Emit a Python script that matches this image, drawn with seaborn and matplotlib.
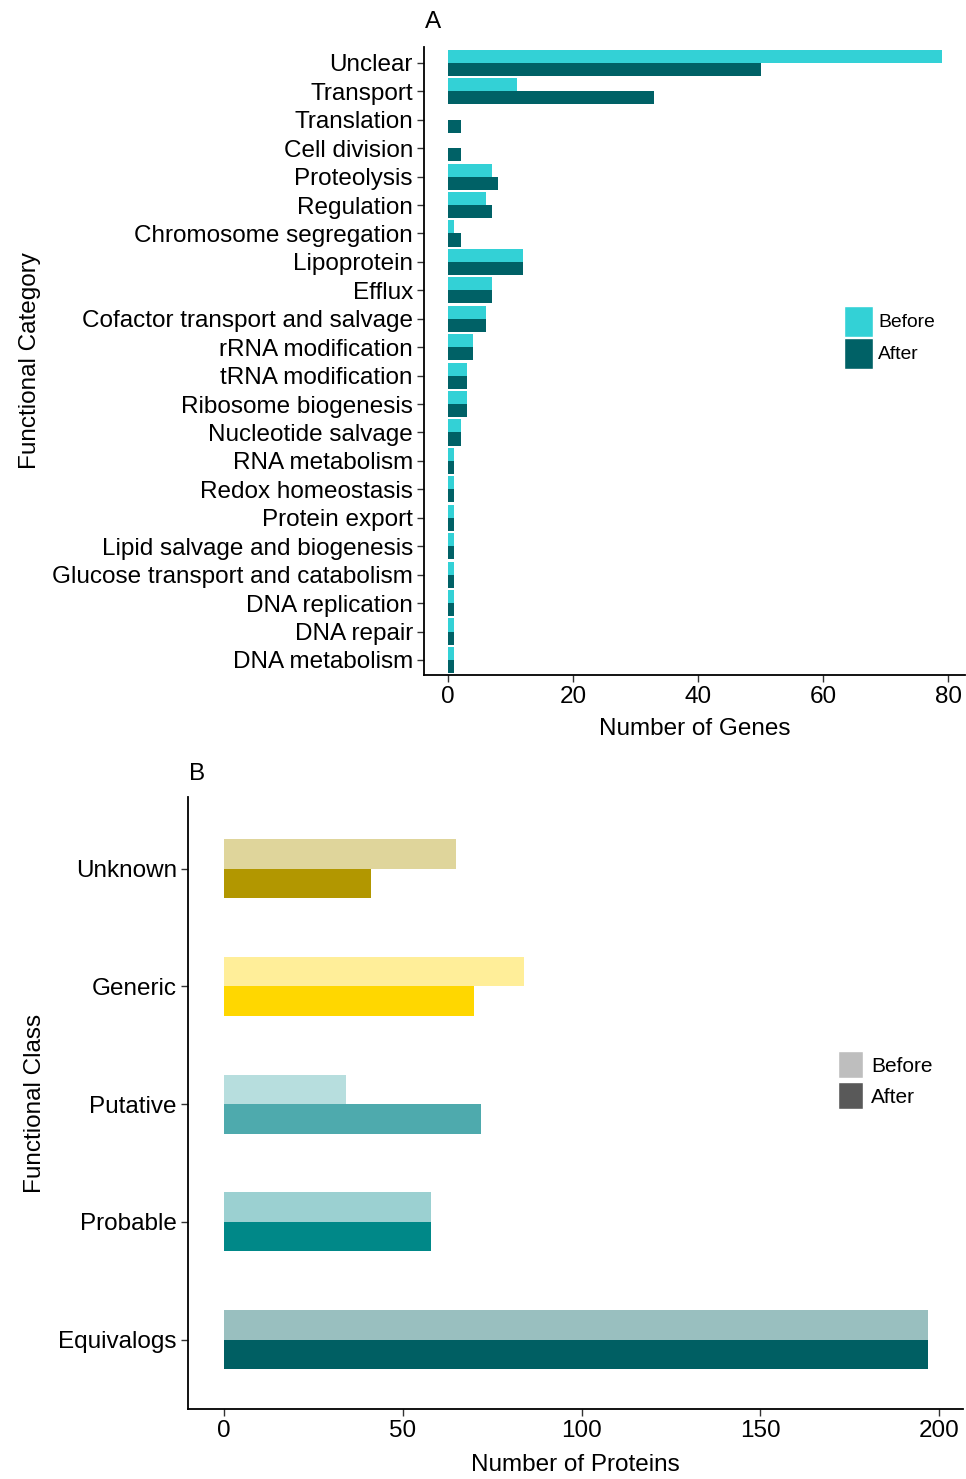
"""Functional category / class bar charts, before vs after."""

import matplotlib

matplotlib.use("Agg", force=True)
import matplotlib.pyplot as plt
from matplotlib.patches import Patch
import pandas as pd
import seaborn as sns

# Panel A data
categories = [
    "Unclear", "Transport", "Translation", "Cell division", "Proteolysis",
    "Regulation", "Chromosome segregation", "Lipoprotein", "Efflux",
    "Cofactor transport and salvage", "rRNA modification", "tRNA modification",
    "Ribosome biogenesis", "Nucleotide salvage", "RNA metabolism",
    "Redox homeostasis", "Protein export", "Lipid salvage and biogenesis",
    "Glucose transport and catabolism", "DNA replication", "DNA repair",
    "DNA metabolism",
]
genes_before = [79, 11, 0, 0, 7, 6, 1, 12, 7, 6, 4, 3, 3, 2, 1, 1, 1, 1, 1, 1, 1, 1]
genes_after = [50, 33, 2, 2, 8, 7, 2, 12, 7, 6, 4, 3, 3, 2, 1, 1, 1, 1, 1, 1, 1, 1]
colors_a = ["#33D1D6", "#006166"]

# Panel B data
classes = ["Unknown", "Generic", "Putative", "Probable", "Equivalogs"]
proteins_before = [65, 84, 34, 58, 197]
proteins_after = [41, 70, 72, 58, 197]
colors_b_before = ["#DFD59B", "#FFEE99", "#B7DEDE", "#9BD0D1", "#99BFBF"]
colors_b_after = ["#B29700", "#FFD700", "#4EAAAD", "#008888", "#005F63"]

status = ["Before", "After"]

sns.set_style("ticks")
plt.rcParams["font.family"] = ["Liberation Sans", "DejaVu Sans"]
for k in ["text.color", "axes.labelcolor", "xtick.labelcolor", "ytick.labelcolor"]:
    plt.rcParams[k] = "black"

df_a = pd.DataFrame({
    "category": categories * 2,
    "genes": genes_before + genes_after,
    "status": [status[0]] * len(categories) + [status[1]] * len(categories),
})
df_b = pd.DataFrame({
    "cls": classes * 2,
    "proteins": proteins_before + proteins_after,
    "status": [status[0]] * len(classes) + [status[1]] * len(classes),
})

W, H = 966, 1479
fig = plt.figure(figsize=(W / 100, H / 100), dpi=100)


def fx(px):
    return px / W


def fy(py):
    return 1 - py / H


tick_fs = 17.5

# ---- Panel A
ax_a = fig.add_axes([fx(424), fy(675), fx(965) - fx(424), fy(47) - fy(675)])
sns.barplot(data=df_a, x="genes", y="category", hue="status", order=categories,
            hue_order=status, palette=colors_a, width=0.92, linewidth=0,
            saturation=1, legend=False, ax=ax_a)
ax_a.set_xlim(-3.84, 82.7)
ax_a.set_ylim(21.53, -0.56)
ax_a.set_xticks([0, 20, 40, 60, 80])
ax_a.set_xlabel("Number of Genes", fontsize=tick_fs, labelpad=7)
ax_a.set_ylabel("Functional Category", fontsize=tick_fs, labelpad=8)
ax_a.tick_params(labelsize=tick_fs, length=5, width=1, color="#333333", pad=3)
sns.despine(ax=ax_a)
for s in ["left", "bottom"]:
    ax_a.spines[s].set_linewidth(1.3)
    ax_a.spines[s].set_color("black")
fig.text(fx(425), fy(22), "A", fontsize=tick_fs, va="center", ha="left")

handles_a = [Patch(facecolor=c, label=l) for c, l in zip(colors_a, status)]
ax_a.legend(handles=handles_a, loc="upper left", frameon=False,
            bbox_to_anchor=(fx(834), fy(296)), bbox_transform=fig.transFigure,
            fontsize=13.9, handlelength=1.5, handleheight=2.1, borderpad=0,
            labelspacing=0.05, handletextpad=0.3)

# ---- Panel B
ax_b = fig.add_axes([fx(188), fy(1409), fx(963) - fx(188), fy(797) - fy(1409)])
sns.barplot(data=df_b, x="proteins", y="cls", hue="status", order=classes,
            hue_order=status, palette=["#BEBEBE", "#595959"], width=0.5,
            linewidth=0, saturation=1, legend=False, ax=ax_b)
for cont, cols in zip(ax_b.containers, [colors_b_before, colors_b_after]):
    for bar, c in zip(cont, cols):
        bar.set_facecolor(c)
ax_b.set_xlim(-10.07, 206.7)
ax_b.set_ylim(4.59, -0.61)
ax_b.set_xticks([0, 50, 100, 150, 200])
ax_b.set_xlabel("Number of Proteins", fontsize=tick_fs, labelpad=8.5)
ax_b.set_ylabel("Functional Class", fontsize=tick_fs, labelpad=9)
ax_b.tick_params(labelsize=tick_fs, length=5, width=1, color="#333333", pad=3)
sns.despine(ax=ax_b)
for s in ["left", "bottom"]:
    ax_b.spines[s].set_linewidth(1.3)
    ax_b.spines[s].set_color("black")
fig.text(fx(189), fy(774), "B", fontsize=tick_fs, va="center", ha="left")

handles_b = [Patch(facecolor=c, label=l) for c, l in zip(["#BEBEBE", "#595959"], status)]
ax_b.legend(handles=handles_b, loc="upper left", frameon=False,
            bbox_to_anchor=(fx(828), fy(1041)), bbox_transform=fig.transFigure,
            fontsize=15, handlelength=1.2, handleheight=1.6, borderpad=0,
            labelspacing=0.2, handletextpad=0.38)

fig.savefig("out.png", dpi=100)
